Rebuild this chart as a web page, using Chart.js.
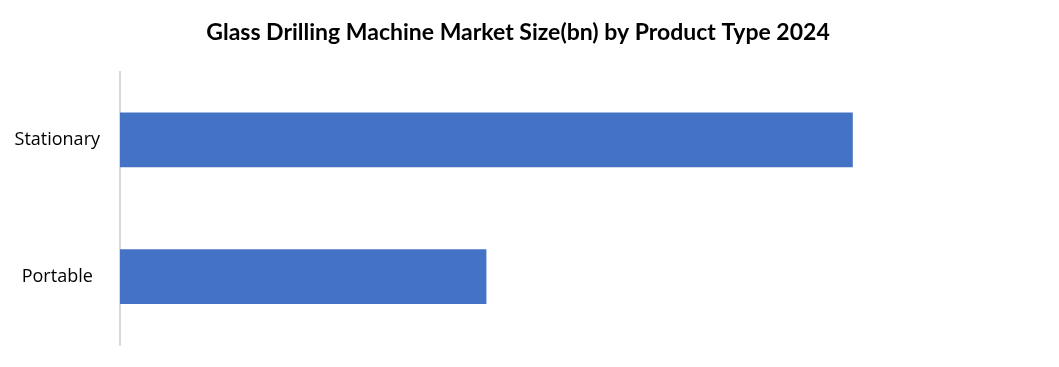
<!DOCTYPE html>
<html>
<head>
<meta charset="utf-8">
<script src="https://cdn.jsdelivr.net/npm/chart.js@4"></script>
<style>
    html, body { margin: 0; padding: 0; background: #fff; }
    #wrap { width: 1059px; height: 367px; }
</style>
</head>
<body>
<div id="wrap"><canvas id="chart"></canvas></div>
<script>
// product types and 2024 market size (bn)
const categories = ["Stationary", "Portable"];
const marketSize = [1.2, 0.6];
const chartTitle = "Glass Drilling Machine Market Size(bn) by Product Type 2024";

const ctx = document.getElementById("chart").getContext("2d");
new Chart(ctx, {
    type: "bar",
    data: {
        labels: categories,
        datasets: [
            {
                label: "Market Size",
                data: marketSize,
                backgroundColor: "#4472C4",
                categoryPercentage: 1,
                barPercentage: 0.4,
            },
        ],
    },
    options: {
        indexAxis: "y",
        responsive: true,
        maintainAspectRatio: false,
        animation: false,
        layout: {
            padding: { left: 0, right: 23, top: 0, bottom: 22 },
        },
        plugins: {
            legend: { display: false },
            tooltip: { enabled: false },
            title: {
                display: true,
                text: chartTitle,
                color: "#000",
                font: { family: "Lato", size: 23, weight: "bold" },
                padding: { top: 19, bottom: 25 },
            },
        },
        scales: {
            x: {
                display: false,
                min: 0,
                max: 1.5,
            },
            y: {
                grid: { display: false, drawTicks: false },
                border: { display: true, color: "#d9d9d9", width: 2 },
                ticks: {
                    color: "#000",
                    padding: 20,
                    crossAlign: "center",
                    font: { family: "Open Sans", size: 18 },
                },
                afterFit: (scale) => {
                    scale.width = 120;
                    scale.paddingTop = 0;
                    scale.paddingBottom = 0;
                },
            },
        },
    },
});
</script>
</body>
</html>
